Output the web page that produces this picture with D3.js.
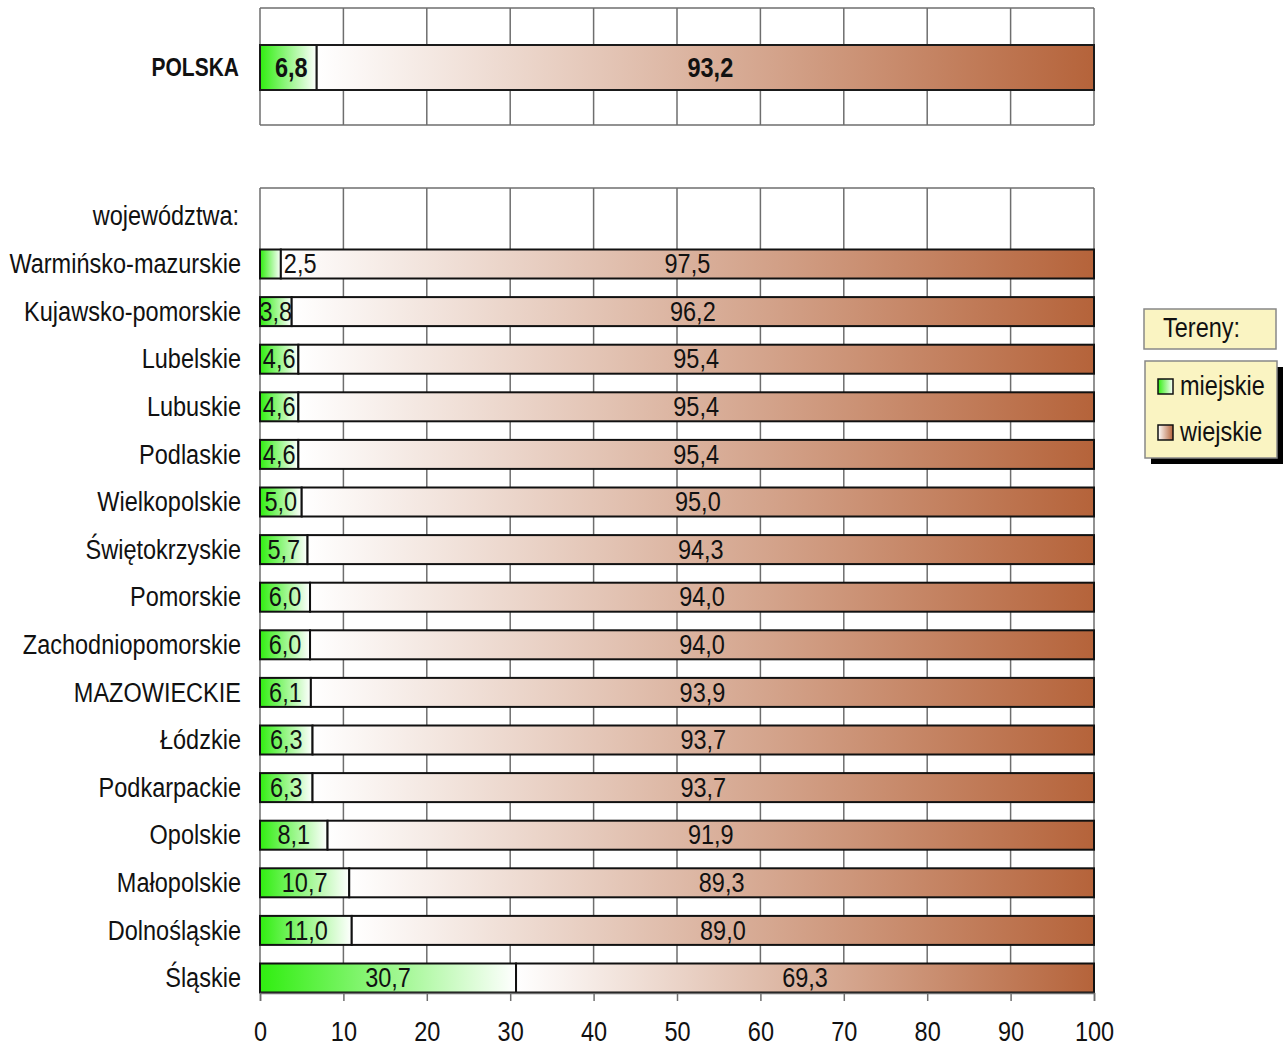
<!DOCTYPE html>
<html>
<head>
<meta charset="utf-8">
<script src="https://cdn.jsdelivr.net/npm/d3@7"></script>
<style>
  html, body { margin: 0; padding: 0; background: #fff; }
  svg { display: block; }
  text { font-family: "Liberation Sans", Arial, sans-serif; fill: #111; }
</style>
</head>
<body>
<svg id="chart" width="1283" height="1048"></svg>
<script>
// ---- data ----
const totalLabel = "POLSKA";
const totalUrban = 6.8;
const totalRural = 93.2;

const regions = [
  "Warmińsko-mazurskie", "Kujawsko-pomorskie", "Lubelskie", "Lubuskie", "Podlaskie",
  "Wielkopolskie", "Świętokrzyskie", "Pomorskie", "Zachodniopomorskie", "MAZOWIECKIE",
  "Łódzkie", "Podkarpackie", "Opolskie", "Małopolskie", "Dolnośląskie", "Śląskie"
];
const urban = [2.5, 3.8, 4.6, 4.6, 4.6, 5.0, 5.7, 6.0, 6.0, 6.1, 6.3, 6.3, 8.1, 10.7, 11.0, 30.7];
const rural = [97.5, 96.2, 95.4, 95.4, 95.4, 95.0, 94.3, 94.0, 94.0, 93.9, 93.7, 93.7, 91.9, 89.3, 89.0, 69.3];
const xTicks = [0, 10, 20, 30, 40, 50, 60, 70, 80, 90, 100];
const groupHeader = "województwa:";
const legendTitle = "Tereny:";
const legendItems = ["miejskie", "wiejskie"];

// ---- setup ----
const svg = d3.select("#chart");
const fmt = v => d3.format(".1f")(v).replace(".", ",");
const SX = 0.84; // horizontal condensing of the sans font
const at = (px, py) => `translate(${px},${py}) scale(${SX},1)`;
const DY = "0.33em";

const x = d3.scaleLinear().domain([0, 100]).range([260, 1094]);
const y = d3.scalePoint().domain(regions).range([264, 978]);

const defs = svg.append("defs");
const gG = defs.append("linearGradient").attr("id", "gGreen").attr("x1", 0).attr("x2", 1).attr("y1", 0).attr("y2", 0);
gG.append("stop").attr("offset", "0%").attr("stop-color", "#30ee10");
gG.append("stop").attr("offset", "100%").attr("stop-color", "#ffffff");
const gB = defs.append("linearGradient").attr("id", "gBrown").attr("x1", 0).attr("x2", 1).attr("y1", 0).attr("y2", 0);
gB.append("stop").attr("offset", "0%").attr("stop-color", "#ffffff");
gB.append("stop").attr("offset", "100%").attr("stop-color", "#b5633a");

const gridColor = "#6e6e6e";

// ---- top panel (POLSKA) ----
const topY0 = 8, topY1 = 125, topBarY = 45, topBarH = 45;
const topG = svg.append("g");
topG.selectAll("line.grid").data(xTicks).join("line")
  .attr("x1", d => x(d)).attr("x2", d => x(d))
  .attr("y1", topY0).attr("y2", topY1)
  .attr("stroke", gridColor).attr("stroke-width", 1.5);
[topY0, topY1].forEach(yy => topG.append("line")
  .attr("x1", x(0)).attr("x2", x(100)).attr("y1", yy).attr("y2", yy)
  .attr("stroke", gridColor).attr("stroke-width", 1.5));
topG.append("rect").attr("x", x(0)).attr("y", topBarY).attr("width", x(totalUrban) - x(0)).attr("height", topBarH)
  .attr("fill", "url(#gGreen)").attr("stroke", "#1a1a1a").attr("stroke-width", 2);
topG.append("rect").attr("x", x(totalUrban)).attr("y", topBarY).attr("width", x(100) - x(totalUrban)).attr("height", topBarH)
  .attr("fill", "url(#gBrown)").attr("stroke", "#1a1a1a").attr("stroke-width", 2);
const tyc = topBarY + topBarH / 2;
topG.append("text").attr("transform", at(239, tyc)).attr("dy", DY)
  .attr("text-anchor", "end").attr("font-weight", "bold").attr("font-size", 25).text(totalLabel);
topG.append("text").attr("transform", at((x(0) + x(totalUrban)) / 2 + 3, tyc)).attr("dy", DY)
  .attr("text-anchor", "middle").attr("font-weight", "bold").attr("font-size", 28).text(fmt(totalUrban));
topG.append("text").attr("transform", at((x(totalUrban) + x(100)) / 2 + 5, tyc)).attr("dy", DY)
  .attr("text-anchor", "middle").attr("font-weight", "bold").attr("font-size", 28).text(fmt(totalRural));

// ---- bottom panel ----
const botY0 = 188, botY1 = 993, barH = 29;
const bot = svg.append("g");
bot.selectAll("line.grid").data(xTicks).join("line")
  .attr("x1", d => x(d)).attr("x2", d => x(d))
  .attr("y1", botY0).attr("y2", botY1)
  .attr("stroke", gridColor).attr("stroke-width", 1.5);
bot.append("line").attr("x1", x(0)).attr("x2", x(100)).attr("y1", botY0).attr("y2", botY0)
  .attr("stroke", gridColor).attr("stroke-width", 1.5);

// axis
const axis = d3.axisBottom(x).tickValues(xTicks).tickSize(8).tickPadding(20).tickFormat(d3.format("d"));
const ax = svg.append("g").attr("transform", `translate(0,${botY1})`).call(axis);
ax.select(".domain").attr("stroke", gridColor).attr("stroke-width", 1.5);
ax.selectAll(".tick line").attr("stroke", gridColor).attr("stroke-width", 1.5);
ax.selectAll(".tick text").attr("font-size", 28).attr("fill", "#111")
  .attr("transform", `scale(${SX},1)`)
  .style("font-family", '"Liberation Sans", Arial, sans-serif');

// header label
bot.append("text").attr("transform", at(239, y(regions[0]) - 48)).attr("dy", DY)
  .attr("text-anchor", "end").attr("font-size", 28).text(groupHeader);

const rows = regions.map((r, i) => ({ name: r, u: urban[i], w: rural[i] }));
const rg = bot.selectAll("g.row").data(rows).join("g").attr("class", "row")
  .attr("transform", d => `translate(0,${y(d.name)})`);

rg.append("rect").attr("x", x(0)).attr("y", -barH / 2).attr("width", d => x(d.u) - x(0)).attr("height", barH)
  .attr("fill", "url(#gGreen)").attr("stroke", "#111").attr("stroke-width", 2);
rg.append("rect").attr("x", d => x(d.u)).attr("y", -barH / 2).attr("width", d => x(100) - x(d.u)).attr("height", barH)
  .attr("fill", "url(#gBrown)").attr("stroke", "#111").attr("stroke-width", 2);

rg.append("text").attr("transform", at(241, 0)).attr("dy", DY)
  .attr("text-anchor", "end").attr("font-size", 28).text(d => d.name);

rg.append("text")
  .attr("transform", d => at(d.u < 3 ? x(d.u) + 3 : (x(0) + x(d.u)) / 2, 0))
  .attr("dy", DY)
  .attr("text-anchor", d => d.u < 3 ? "start" : "middle")
  .attr("font-size", 28).text(d => fmt(d.u));
rg.append("text")
  .attr("transform", d => at((x(d.u) + x(100)) / 2, 0)).attr("dy", DY)
  .attr("text-anchor", "middle").attr("font-size", 28).text(d => fmt(d.w));

// ---- legend ----
const lg = svg.append("g");
lg.append("rect").attr("x", 1144).attr("y", 309).attr("width", 132).attr("height", 40)
  .attr("fill", "#faf4c2").attr("stroke", "#888").attr("stroke-width", 1.5);
lg.append("text").attr("transform", at(1163, 328)).attr("dy", DY).attr("font-size", 28).text(legendTitle);

lg.append("rect").attr("x", 1151).attr("y", 367).attr("width", 132).attr("height", 97).attr("fill", "#000");
lg.append("rect").attr("x", 1145).attr("y", 361).attr("width", 132).attr("height", 97)
  .attr("fill", "#faf4c2").attr("stroke", "#888").attr("stroke-width", 1.5);
const fills = ["url(#gGreen)", "url(#gBrown)"];
const li = lg.selectAll("g.li").data(legendItems).join("g").attr("class", "li")
  .attr("transform", (d, i) => `translate(1158,${386 + i * 46})`);
li.append("rect").attr("x", 0).attr("y", -7).attr("width", 15).attr("height", 15)
  .attr("fill", (d, i) => fills[i]).attr("stroke", "#111").attr("stroke-width", 1.5);
li.append("text").attr("transform", at(22, 0)).attr("dy", DY).attr("font-size", 28).text(d => d);
</script>
</body>
</html>
